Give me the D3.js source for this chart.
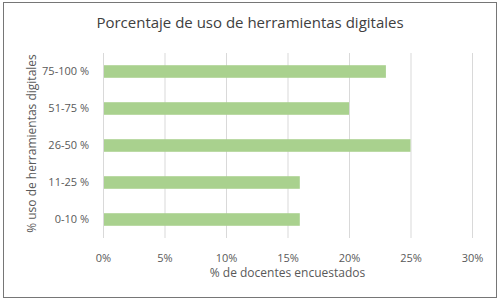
<!DOCTYPE html>
<html>
<head>
<meta charset="utf-8">
<script src="https://cdn.jsdelivr.net/npm/d3@7"></script>
<style>
  body { margin: 0; background: #fff; }
  svg text { font-family: "Open Sans", sans-serif; fill: #595959; }
</style>
</head>
<body>
<div id="chart"></div>
<script>
const categories = ["75-100 %", "51-75 %", "26-50 %", "11-25 %", "0-10 %"];
const values = [23, 20, 25, 16, 16];
const xTicks = [0, 5, 10, 15, 20, 25, 30];

const width = 500, height = 302;
const margin = { top: 53, right: 28, bottom: 64, left: 103 };

const svg = d3.select("#chart").append("svg")
    .attr("width", width)
    .attr("height", height);

svg.append("rect")
    .attr("x", 3.5).attr("y", 2.5)
    .attr("width", 493).attr("height", 295)
    .attr("fill", "#fff")
    .attr("stroke", "#767676");

const xScale = d3.scaleLinear()
    .domain([0, 30])
    .range([margin.left, width - margin.right]);

const yScale = d3.scaleBand()
    .domain(categories)
    .range([margin.top, height - margin.bottom])
    .paddingInner(0.66)
    .paddingOuter(0.33);

// gridlines
svg.append("g")
    .selectAll("line")
    .data(xTicks)
    .enter()
    .append("line")
    .attr("x1", d => xScale(d) + 0.5)
    .attr("x2", d => xScale(d) + 0.5)
    .attr("y1", margin.top)
    .attr("y2", height - margin.bottom)
    .attr("stroke", "#d9d9d9")
    .attr("stroke-width", 1);

svg.selectAll("rect.bar")
    .data(categories)
    .enter()
    .append("rect")
    .attr("class", "bar")
    .attr("x", xScale(0) + 1)
    .attr("y", d => yScale(d))
    .attr("width", (d, i) => xScale(values[i]) - xScale(0) - 1)
    .attr("height", yScale.bandwidth())
    .attr("fill", "#a9d18e");

// x tick labels
const xAxis = svg.append("g")
    .attr("transform", `translate(0,${height - margin.bottom})`)
    .call(d3.axisBottom(xScale).tickValues(xTicks).tickFormat(d => d + "%").tickSize(0).tickPadding(16));
xAxis.select(".domain").remove();
xAxis.selectAll("text").style("font-size", "11px");

// y category labels
const yAxis = svg.append("g")
    .attr("transform", `translate(${margin.left},0)`)
    .call(d3.axisLeft(yScale).tickSize(0).tickPadding(14));
yAxis.select(".domain").remove();
yAxis.selectAll("text").style("font-size", "11px");

svg.append("text")
    .attr("x", 250)
    .attr("y", 28)
    .attr("text-anchor", "middle")
    .style("font-size", "15px")
    .style("fill", "#404040")
    .text("Porcentaje de uso de herramientas digitales");

svg.append("text")
    .attr("x", (margin.left + width - margin.right) / 2)
    .attr("y", 277)
    .attr("text-anchor", "middle")
    .style("font-size", "12px")
    .text("% de docentes encuestados");

svg.append("text")
    .attr("transform", `translate(36,${(margin.top + height - margin.bottom) / 2 - 2}) rotate(-90)`)
    .attr("text-anchor", "middle")
    .style("font-size", "12px")
    .text("% uso de herramientas digitales");
</script>
</body>
</html>
